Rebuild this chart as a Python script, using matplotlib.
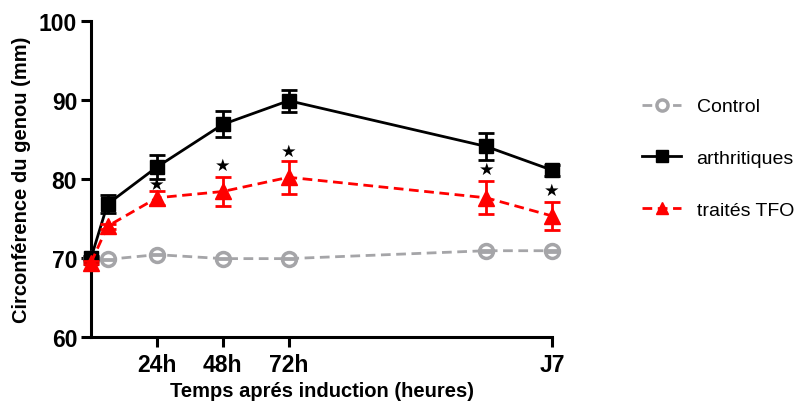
import numpy as np
import matplotlib
matplotlib.use('Agg')
import matplotlib.pyplot as plt

plt.rcParams['font.family'] = ['Liberation Sans', 'DejaVu Sans']

# hours after induction
t = [0, 6, 24, 48, 72, 144, 168]

ctrl = [69.8, 69.8, 70.4, 69.9, 69.9, 70.9, 70.9]
ctrl_err = [0.1, 0.1, 0.1, 0.1, 0.1, 0.1, 0.1]

arth = [70.0, 76.8, 81.5, 86.9, 89.9, 84.1, 81.1]
arth_err = [0.2, 1.1, 1.5, 1.65, 1.4, 1.75, 0.7]

tfo = [69.4, 74.0, 77.6, 78.4, 80.2, 77.6, 75.3]
tfo_err = [0.2, 0.3, 0.9, 1.85, 2.1, 2.1, 1.8]

# significance stars
star_t = [24, 48, 72, 144, 168]
star_y = [79.3, 81.8, 83.5, 81.3, 78.6]

xticks = [24, 48, 72, 168]
xticklabels = ['24h', '48h', '72h', 'J7']

gray = '#a5a5a8'
red = '#ff0000'

fig = plt.figure(figsize=(8.06, 4.06), dpi=100)
ax = fig.add_axes([0.113, 0.168, 0.572, 0.778])

l1, = ax.plot(t, ctrl, color=gray, lw=2, dashes=(3.5, 2), marker='o', ms=10,
              mfc='white', mec=gray, mew=2.5, clip_on=False, zorder=3, label='Control')
ax.errorbar(t, ctrl, yerr=ctrl_err, fmt='none', ecolor=gray, elinewidth=2,
            capsize=4, capthick=2, clip_on=False, zorder=4)

l2, = ax.plot(t, arth, color='black', lw=2, marker='s', ms=10, clip_on=False,
              zorder=5, label='arthritiques')
ax.errorbar(t, arth, yerr=arth_err, fmt='none', ecolor='black', elinewidth=2,
            capsize=6, capthick=2, clip_on=False, zorder=5)

l3, = ax.plot(t, tfo, color=red, lw=2, dashes=(3.5, 2), marker='^', ms=11,
              clip_on=False, zorder=6, label='traités TFO')
ax.errorbar(t, tfo, yerr=tfo_err, fmt='none', ecolor=red, elinewidth=2,
            capsize=6, capthick=2, clip_on=False, zorder=6)

for xs, ys in zip(star_t, star_y):
    ax.text(xs, ys, '★', ha='center', va='center', fontsize=12.5,
            family='DejaVu Sans', zorder=7)

ax.set_xlim(0, 168)
ax.set_ylim(60, 100)
ax.set_xticks(xticks)
ax.set_xticklabels(xticklabels)
ax.set_yticks([60, 70, 80, 90, 100])

for s in ['top', 'right']:
    ax.spines[s].set_visible(False)
for s in ['left', 'bottom']:
    ax.spines[s].set_linewidth(2.2)
ax.tick_params(width=2.2, length=7, labelsize=16.5, pad=3)
for lb in ax.get_xticklabels() + ax.get_yticklabels():
    lb.set_fontweight('bold')
ax.tick_params(axis='x', pad=5)

ax.set_xlabel('Temps aprés induction (heures)', fontsize=14.5, fontweight='bold',
              labelpad=3)
ax.set_ylabel('Circonférence du genou (mm)', fontsize=14.5, fontweight='bold',
              labelpad=6)

fig.legend(handles=[l1, l2, l3], loc='upper left', bbox_to_anchor=(0.775, 0.80),
           frameon=False, fontsize=14, labelspacing=1.75, handlelength=2.0,
           handletextpad=0.8, markerscale=0.8)

fig.savefig('out.png', dpi=100)
